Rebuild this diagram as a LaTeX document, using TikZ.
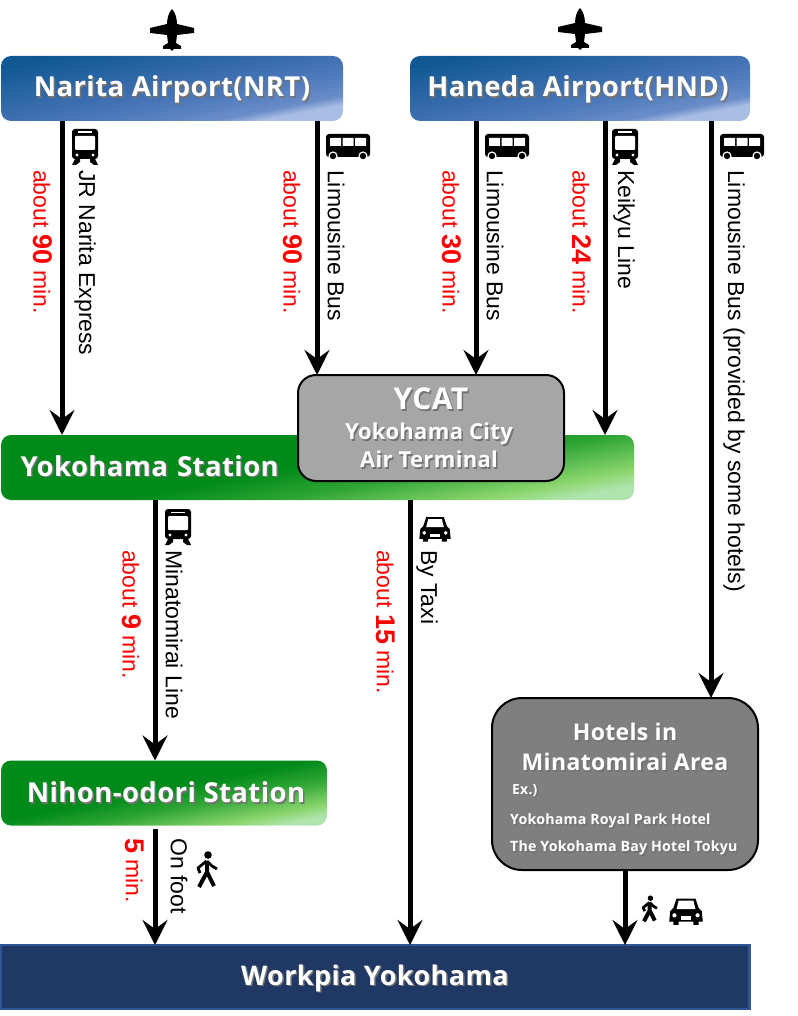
\documentclass[tikz,border=0pt]{standalone}
\usepackage{fontspec}
\setmainfont{Liberation Sans}
\newfontfamily\boxfont{Open Sans}[LetterSpace=1.5]
\usetikzlibrary{arrows.meta}

% box colours
\definecolor{navybox}{HTML}{1F3864}
\definecolor{navyedge}{HTML}{2F5597}
\definecolor{ycatgrey}{HTML}{A6A6A6}
\definecolor{hotelgrey}{HTML}{7F7F7F}
\definecolor{bluedark}{HTML}{0F5894}
\definecolor{bluemid}{HTML}{3C6EAF}
\definecolor{blueside}{HTML}{4F7BBD}
\definecolor{bluepale}{HTML}{6A8DC8}
\definecolor{blueglow}{HTML}{A8BDE3}
\definecolor{greendark}{HTML}{008A1A}
\definecolor{greenside}{HTML}{2EA534}
\definecolor{greenpale}{HTML}{8CD66E}
\definecolor{greenglow}{HTML}{AFE4AF}

\pgfdeclareverticalshading{bluebar}{100bp}{
    color(0bp)=(blueglow);
    color(25bp)=(blueglow);
    color(28bp)=(blueglow);
    color(32bp)=(bluepale);
    color(42bp)=(blueside);
    color(52bp)=(bluemid);
    color(75bp)=(bluedark);
    color(100bp)=(bluedark)}
\pgfdeclareverticalshading{greenbar}{100bp}{
    color(0bp)=(greenglow);
    color(25bp)=(greenglow);
    color(30bp)=(greenpale);
    color(42bp)=(greenside);
    color(52bp)=(greendark);
    color(100bp)=(greendark)}

% white lettering with a soft drop shadow
\newcommand{\shadowtext}[1]{\raisebox{-2pt}[\height][\depth]{\makebox[0pt][l]{\hspace{1.5pt}\raisebox{-1.5pt}{\color{black!55}#1}}{\color{white}#1}}}

\tikzset{
    x=1pt,y=-1pt,
    stationbox/.style={rectangle,rounded corners=10pt,inner sep=0pt,outer sep=0pt,minimum height=65pt,
        font=\boxfont\bfseries\fontsize{27.5}{32}\selectfont,align=center},
    bluebox/.style={stationbox,shading=bluebar,shading angle=11},
    greenbox/.style={stationbox,shading=greenbar,shading angle=11},
    greybox/.style={draw=black,line width=2pt,rectangle,inner sep=0pt,outer sep=0pt,align=center},
    route/.style={line width=5pt,-{Stealth[length=25pt,width=25pt,inset=9pt]}},
    timelabel/.style={rotate=-90,anchor=west,inner sep=0pt,red,font=\fontsize{23}{23}\selectfont},
    wayslabel/.style={rotate=-90,anchor=west,inner sep=0pt,font=\fontsize{23}{23}\selectfont},
    planeicon/.pic={
        \fill (0,-22) .. controls (3,-19) and (5,-13) .. (5,-7) -- (22,-3) -- (22,2) -- (5,4)
            -- (4,12) -- (9,15) -- (9,18) -- (2,18) -- (0,20) -- (-2,18) -- (-9,18) -- (-9,15)
            -- (-4,12) -- (-5,4) -- (-22,2) -- (-22,-3) -- (-5,-7) .. controls (-5,-13) and (-3,-19) .. (0,-22) -- cycle;
    },
    trainicon/.pic={
        \fill[rounded corners=3pt] (-13,-18) rectangle (13,12);
        \fill[white,rounded corners=1pt] (-10,-11) rectangle (10,3);
        \fill[white] (-7,-15.5) rectangle (7,-14);
        \fill[white] (-8,8) circle (1.7) (8,8) circle (1.7);
        \fill (-10,12) -- (-5,12) -- (-5,15) -- (-9,18) -- (-13,18) -- cycle;
        \fill (10,12) -- (5,12) -- (5,15) -- (9,18) -- (13,18) -- cycle;
    },
    busicon/.pic={
        \fill[rounded corners=3pt] (-22,-13) rectangle (22,10);
        \foreach \wx in {-18,-5.5,7}{\fill[white,rounded corners=0.5pt] (\wx,-9) rectangle ++(11,8);}
        \fill[white] (-15,9) circle (4.6) (15,9) circle (4.6);
        \fill (-15,9) circle (3.2) (15,9) circle (3.2);
    },
    caricon/.pic={
        \fill (-12,-1) -- (-9,-10) -- (9,-10) -- (12,-1) -- (15,2) -- (16,12) -- (12,12) -- (12,15)
            -- (7,15) -- (7,12) -- (-7,12) -- (-7,15) -- (-12,15) -- (-12,12) -- (-16,12) -- (-15,2) -- cycle;
        \fill[white] (-9,0) -- (-7,-8) -- (7,-8) -- (9,0) -- cycle;
        \fill[white] (-11,6) circle (2) (11,6) circle (2);
        \fill[white] (-5,7) rectangle (5,10);
    },
    walkicon/.pic={
        \fill (2,-15) circle (3.8);
        \draw[line width=4pt,line join=round] (1,-9) -- (1,2) -- (-7,17);
        \draw[line width=4pt,line join=round] (1,2) -- (8,16);
        \draw[line width=2.8pt,line join=round] (0.5,-9) -- (-8,-2) -- (-6,3);
        \draw[line width=2.8pt,line join=round] (1,-9) -- (6,-4) -- (11,-1);
    },
}

\begin{document}
\begin{tikzpicture}
    \useasboundingbox (0,0) rectangle (797,1016);

    % Airports
    \node[bluebox,minimum width=342pt] (narita) at (172,88.5) {\shadowtext{Narita Airport(NRT)}};
    \node[bluebox,minimum width=340pt] (haneda) at (580,88.5) {\hspace*{-4pt}\shadowtext{Haneda Airport(HND)}};
    \pic at (172,31) {planeicon};
    \pic at (580,30) {planeicon};

    % Stations and terminals
    \node[greenbox,minimum width=633pt,text width=594pt,inner xsep=19.5pt,align=left] (yokohama) at (317.5,467.5) {\raisebox{3pt}[\height][\depth]{\shadowtext{Yokohama Station}}};
    \node[greybox,fill=ycatgrey,rounded corners=18pt,minimum width=266pt,minimum height=106pt] (ycat) at (431,428) {};
    \node[font=\boxfont\bfseries\fontsize{30}{30}\selectfont,inner sep=0pt] (ycatname) at (431,398) {\shadowtext{YCAT}};
    \node[font=\boxfont\bfseries\fontsize{22}{28}\selectfont,align=center,inner sep=0pt] (ycatfull) at (429,444) {\shadowtext{Yokohama City}\\\shadowtext{Air Terminal}};
    \node[greenbox,minimum width=326pt] (nihon) at (164,793) {\hspace*{4pt}\raisebox{2pt}[\height][\depth]{\shadowtext{Nihon-odori Station}}};
    \node[greybox,fill=hotelgrey,rounded corners=30pt,minimum width=266pt,minimum height=172pt] (hotels) at (625,784) {};
    \node[font=\boxfont\bfseries\fontsize{23}{30}\selectfont,align=center,inner sep=0pt] (hotelname) at (625,746) {\shadowtext{Hotels in}\\\shadowtext{Minatomirai Area}};
    \node[font=\boxfont\bfseries\fontsize{14}{14}\selectfont,anchor=west,inner sep=0pt] (hotelex) at (512,789) {\shadowtext{Ex.)}};
    \node[font=\boxfont\bfseries\fontsize{14.2}{14}\selectfont,anchor=west,inner sep=0pt] (hotelone) at (510,820) {\shadowtext{Yokohama Royal Park Hotel}};
    \node[font=\boxfont\bfseries\fontsize{14.2}{14}\selectfont,anchor=west,inner sep=0pt] (hoteltwo) at (510,847) {\shadowtext{The Yokohama Bay Hotel Tokyu}};
    \node[draw=navyedge,fill=navybox,line width=2.5pt,rectangle,inner sep=0pt,outer sep=0pt,minimum width=749pt,minimum height=64pt,
        font=\boxfont\bfseries\fontsize{27}{30}\selectfont] (workpia) at (375,977) {\shadowtext{Workpia Yokohama}};

    % Routes
    \draw[route] (narita.south -| 62,0) -- (yokohama.north -| 62,0);
    \draw[route] (narita.south -| 317,0) -- (ycat.north -| 317,0);
    \draw[route] (haneda.south -| 476,0) -- (ycat.north -| 476,0);
    \draw[route] (haneda.south -| 605,0) -- (yokohama.north -| 605,0);
    \draw[route] (haneda.south -| 711,0) -- (hotels.north -| 711,0);
    \draw[route] (yokohama.south -| 155,0) -- (nihon.north -| 155,0);
    \draw[route] (yokohama.south -| 410,0) -- (workpia.north -| 410,0);
    \draw[route,shorten <=3pt] (nihon.south -| 155,0) -- (workpia.north -| 155,0);
    \draw[route] (hotels.south -| 625,0) -- (workpia.north -| 625,0);

    % Travel times
    \foreach \tx/\ty/\mins in {43/170/90,293/170/90,452/170/30,582/170/24,132/550/9,386/550/15} {
        \node[timelabel] (time\tx) at (\tx,\ty) {about {\bfseries\fontsize{27}{27}\selectfont\mins} min.};
    }
    \node[timelabel] (timewalk) at (135,838) {{\bfseries\fontsize{27}{27}\selectfont 5} min.};

    % Means of transport
    \node[wayslabel] (jrname) at (85,170) {JR Narita Express};
    \node[wayslabel] (busone) at (336,170) {Limousine Bus};
    \node[wayslabel] (bustwo) at (495,170) {Limousine Bus};
    \node[wayslabel] (keikyu) at (624,170) {Keikyu Line};
    \node[wayslabel] (busthree) at (734,170) {Limousine Bus (provided by some hotels)};
    \node[wayslabel] (minato) at (174,550) {Minatomirai Line};
    \node[wayslabel] (taxi) at (427,550) {By Taxi};
    \node[wayslabel] (foot) at (179,838) {On foot};

    % Icons
    \pic at (85,147) {trainicon};
    \pic at (625,147) {trainicon};
    \pic at (178,527) {trainicon};
    \pic at (348,147) {busicon};
    \pic at (507,147) {busicon};
    \pic at (742,147) {busicon};
    \pic[scale=0.98] at (435,527) {caricon};
    \pic[scale=1.05] at (686,909) {caricon};
    \pic at (206,870) {walkicon};
    \pic[scale=0.72] at (649,909) {walkicon};
\end{tikzpicture}
\end{document}
